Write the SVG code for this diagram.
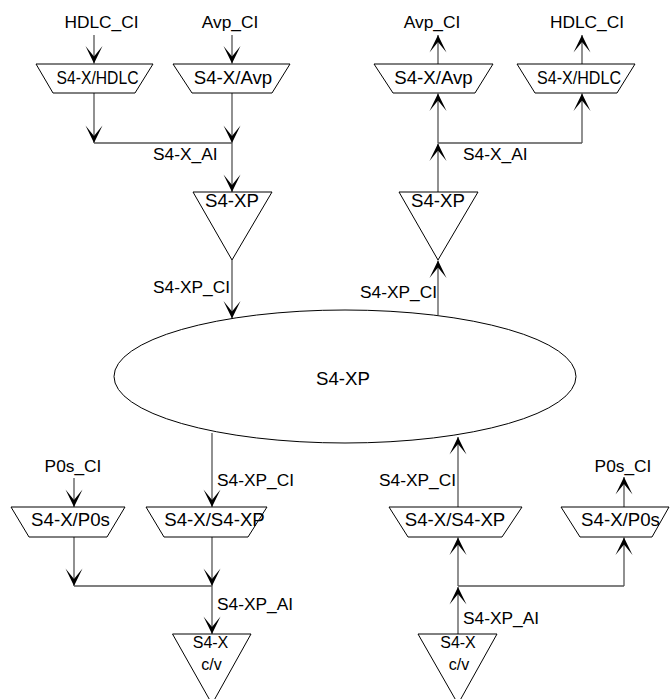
<svg xmlns="http://www.w3.org/2000/svg" width="671" height="699" viewBox="0 0 671 699">
<style>
.shape{fill:#fff;stroke:#000;stroke-width:1}
.conn{fill:none;stroke:#555;stroke-width:1.3;marker-end:url(#arr)}
.plain{fill:none;stroke:#555;stroke-width:1.3}
text{font-family:"Liberation Sans",Arial,sans-serif;fill:#000;text-anchor:middle}
.node{font-size:18.67px}
.lbl{font-size:17.33px;text-anchor:start}
.cap{font-size:17.33px}
.small{font-size:16px}
</style>
<defs>
<marker id="arr" markerUnits="userSpaceOnUse" markerWidth="20" markerHeight="20" refX="0" refY="0" orient="auto" overflow="visible">
<path d="M0,0 L-17.5,-8.5 L-7,0 L-17.5,8.5 Z" fill="#000"/>
</marker>
</defs>
<rect width="671" height="699" fill="#fff"/>
<g id="connectors">
<path class="conn" d="M94,35 V63.5"/>
<path class="conn" d="M232,35 V63.5"/>
<path class="conn" d="M94,93 V143"/>
<path class="conn" d="M232,93 V143"/>
<path class="plain" d="M94,143 H232"/>
<path class="conn" d="M232,143 V192"/>
<path class="conn" d="M232,260 V318.5"/>
<path class="conn" d="M438,315 V260.5"/>
<path class="conn" d="M438,192 V143.5"/>
<path class="conn" d="M438,143 V93.5"/>
<path class="plain" d="M438,143 H582"/>
<path class="conn" d="M582,143 V93.5"/>
<path class="conn" d="M438,64 V35"/>
<path class="conn" d="M582,64 V35"/>
<path class="conn" d="M212,433 V507"/>
<path class="conn" d="M74,478 V507"/>
<path class="conn" d="M74,537 V586"/>
<path class="conn" d="M212,537 V586"/>
<path class="plain" d="M74,586 H212"/>
<path class="conn" d="M212,586 V634"/>
<path class="conn" d="M458,507 V437"/>
<path class="conn" d="M624,507 V477"/>
<path class="conn" d="M458,586 V537.5"/>
<path class="conn" d="M624,586 V537.5"/>
<path class="plain" d="M458,586 H624"/>
<path class="conn" d="M458,634 V587"/>
</g>
<g id="lbl-hdlc-ci-l"><text class="cap" x="101.5" y="28">HDLC_CI</text></g>
<g id="lbl-avp-ci-l"><text class="cap" x="230" y="28">Avp_CI</text></g>
<g id="lbl-avp-ci-r"><text class="cap" x="432" y="28">Avp_CI</text></g>
<g id="lbl-hdlc-ci-r"><text class="cap" x="587" y="28">HDLC_CI</text></g>
<g id="trap-hdlc-l"><polygon class="shape" points="36,64 153,64 135,93 53,93"/><text class="node" x="97.5" y="84" textLength="82" lengthAdjust="spacingAndGlyphs">S4-X/HDLC</text></g>
<g id="trap-avp-l"><polygon class="shape" points="173,64 290,64 272,93 192,93"/><text class="node" x="233" y="84">S4-X/Avp</text></g>
<g id="trap-avp-r"><polygon class="shape" points="374,64 493,64 475,93 393,93"/><text class="node" x="433.5" y="84">S4-X/Avp</text></g>
<g id="trap-hdlc-r"><polygon class="shape" points="517,64 635,64 617,93 535,93"/><text class="node" x="579" y="84" textLength="84" lengthAdjust="spacingAndGlyphs">S4-X/HDLC</text></g>
<g id="lbl-s4xai-l"><text class="lbl" x="153" y="160">S4-X_AI</text></g>
<g id="lbl-s4xai-r"><text class="lbl" x="463" y="160">S4-X_AI</text></g>
<g id="tri-xp-l"><polygon class="shape" points="193,192 272,192 232,260"/><text class="node" x="232" y="206.5">S4-XP</text></g>
<g id="tri-xp-r"><polygon class="shape" points="399,192 478,192 438,260"/><text class="node" x="438" y="206.5">S4-XP</text></g>
<g id="lbl-xpci-l"><text class="lbl" x="153" y="293">S4-XP_CI</text></g>
<g id="lbl-xpci-r"><text class="lbl" x="360" y="298">S4-XP_CI</text></g>
<g id="ellipse-xp"><ellipse class="shape" cx="345" cy="376.5" rx="231" ry="66.5"/><text class="node" x="343" y="385">S4-XP</text></g>
<g id="lbl-p0s-ci-l"><text class="cap" x="73" y="472">P0s_CI</text></g>
<g id="lbl-p0s-ci-r"><text class="cap" x="623" y="472">P0s_CI</text></g>
<g id="lbl-xpci-bl"><text class="lbl" x="217" y="486">S4-XP_CI</text></g>
<g id="lbl-xpci-br"><text class="lbl" x="379" y="486">S4-XP_CI</text></g>
<g id="trap-p0s-l"><polygon class="shape" points="11,507 125,507 107,537 29,537"/><text class="node" x="70.5" y="526">S4-X/P0s</text></g>
<g id="trap-s4xp-l"><polygon class="shape" points="146,507 267,507 248,537 164,537"/><text class="node" x="214.5" y="526">S4-X/S4-XP</text></g>
<g id="trap-s4xp-r"><polygon class="shape" points="389,507 522,507 502,537 408,537"/><text class="node" x="455" y="526">S4-X/S4-XP</text></g>
<g id="trap-p0s-r"><polygon class="shape" points="561,507 669,507 652,537 580,537"/><text class="node" x="620.5" y="526">S4-X/P0s</text></g>
<g id="lbl-xpai-l"><text class="lbl" x="217" y="610">S4-XP_AI</text></g>
<g id="lbl-xpai-r"><text class="lbl" x="463" y="624">S4-XP_AI</text></g>
<g id="tri-cv-l"><polygon class="shape" points="172.5,634 251,634 212,704"/><text class="small" x="210.5" y="648">S4-X</text><text class="small" x="211.5" y="670">c/v</text></g>
<g id="tri-cv-r"><polygon class="shape" points="418,634 497,634 458,704"/><text class="small" x="458" y="648">S4-X</text><text class="small" x="459" y="670">c/v</text></g>
</svg>
